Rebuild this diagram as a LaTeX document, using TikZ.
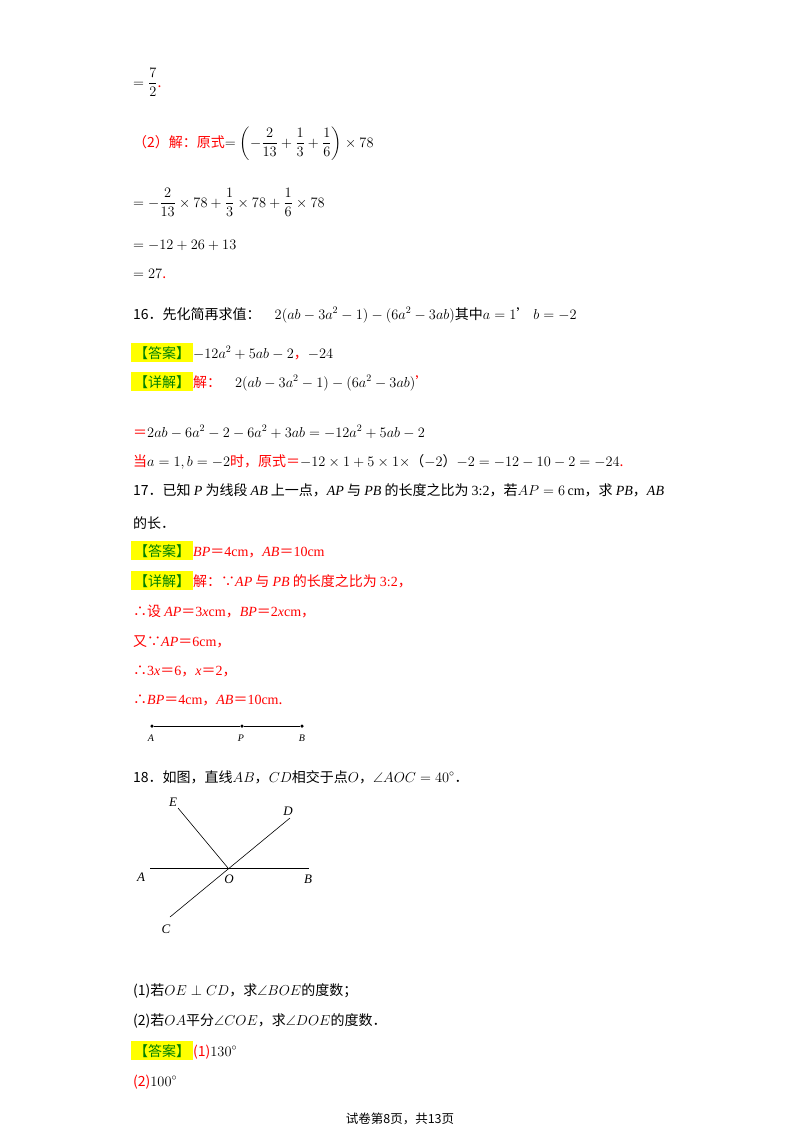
\documentclass[tikz,border=0pt]{standalone}
\usepackage{amsmath,amssymb}
\usepackage{fontspec}
\setmainfont{Noto Sans CJK SC}
\newfontfamily\lat{Liberation Serif}
\definecolor{rd}{RGB}{255,0,0}
\definecolor{gr}{RGB}{0,128,0}
\definecolor{hl}{RGB}{255,255,0}
\newcommand{\tagbox}[1]{\colorbox{hl}{\color{gr}【#1】}}
\begin{document}
\begin{tikzpicture}[x=1pt,y=-1pt,
  txt/.style={anchor=base west,inner sep=0pt,font=\fontsize{14}{16}\selectfont},
  foot/.style={anchor=base,inner sep=0pt,font=\fontsize{12.5}{14}\selectfont},
  lbl/.style={inner sep=0pt,font=\fontsize{13}{14}\selectfont\itshape\lat},
  slbl/.style={inner sep=0pt,font=\fontsize{10}{11}\selectfont\itshape\lat},
  seg/.style={line width=0.6pt},
  dot/.style={circle,fill=black,inner sep=0pt,minimum size=3.5pt}]
\useasboundingbox (0,0) rectangle (800,1132);
\node[txt] (l1) at (133,87) {$=\dfrac{7}{2}$\textcolor{rd}{.}};
\node[txt] (l2) at (133,147) {\textcolor{rd}{（2）解：原式}$=\left(-\dfrac{2}{13}+\dfrac{1}{3}+\dfrac{1}{6}\right)\times 78$};
\node[txt] (l3) at (133,207) {$=-\dfrac{2}{13}\times78+\dfrac{1}{3}\times78+\dfrac{1}{6}\times78$};
\node[txt] (l4) at (133,249) {$=-12+26+13$};
\node[txt] (l5) at (133,278) {$=27$\textcolor{rd}{.}};
\node[txt] (l6) at (133,319) {16．先化简再求值：\quad$2(ab-3a^2-1)-(6a^2-3ab)$其中$a=1$’\ $b=-2$};
\node[txt] (l7) at (131,358) {\tagbox{答案}$-12a^2+5ab-2$\textcolor{rd}{，}$-24$};
\node[txt] (l8) at (131,387) {\tagbox{详解}\textcolor{rd}{解：}\quad$2(ab-3a^2-1)-(6a^2-3ab)$\textcolor{rd}{’}};
\node[txt] (l9) at (133,437) {\textcolor{rd}{＝}$2ab-6a^2-2-6a^2+3ab=-12a^2+5ab-2$};
\node[txt] (l10) at (133,466) {\textcolor{rd}{当}$a=1,b=-2$\textcolor{rd}{时，原式＝}$-12\times1+5\times1\times$（$-2$）$-2=-12-10-2=-24$\textcolor{rd}{.}};
\node[txt] (l11) at (133,495) {17．已知 {\lat\itshape P} 为线段 {\lat\itshape AB} 上一点，{\lat\itshape AP} 与 {\lat\itshape PB} 的长度之比为 {\lat 3:2}，若$AP=6\,$\lat cm\rmfamily，求 {\lat\itshape PB}，{\lat\itshape AB}};
\node[txt] (l12) at (133,528) {的长．};
\node[txt] (l13) at (131,556) {\tagbox{答案}\color{rd}{\lat\itshape BP}＝{\lat 4cm}，{\lat\itshape AB}＝{\lat 10cm}};
\node[txt] (l14) at (131,586) {\tagbox{详解}\color{rd}解：∵{\lat\itshape AP} 与 {\lat\itshape PB} 的长度之比为 {\lat 3:2}，};
\node[txt] (l15) at (133,616) {\color{rd}∴设 {\lat\itshape AP}＝{\lat 3\textit{x}cm}，{\lat\itshape BP}＝{\lat 2\textit{x}cm}，};
\node[txt] (l16) at (133,646) {\color{rd}又∵{\lat\itshape AP}＝{\lat 6cm}，};
\node[txt] (l17) at (133,675) {\color{rd}∴{\lat 3\textit{x}}＝{\lat 6}，{\lat\itshape x}＝{\lat 2}，};
\node[txt] (l18) at (133,704) {\color{rd}∴{\lat\itshape BP}＝{\lat 4cm}，{\lat\itshape AB}＝{\lat 10cm}.};
\node[dot] (pA) at (152,726) {};
\node[dot] (pP) at (242,726) {};
\node[dot] (pB) at (302,726) {};
\draw[seg] (pA) -- (pP) -- (pB);
\node[slbl] at (151,738) {A};
\node[slbl] at (241,738) {P};
\node[slbl] at (302,738) {B};
\node[txt] (l19) at (133,782) {18．如图，直线$AB$，$CD$相交于点$O$，$\angle AOC=40^\circ$．};
\coordinate (O) at (228,868);
\coordinate (A) at (150,868);
\coordinate (B) at (309,868);
\coordinate (E) at (178,808);
\coordinate (D) at (290,818);
\coordinate (C) at (170,917);
\draw[seg] (A) -- (B);
\draw[seg] (C) -- (D);
\draw[seg] (E) -- (O);
\node[lbl] at (173,802) {E};
\node[lbl] at (288,811) {D};
\node[lbl] at (141,877) {A};
\node[lbl] at (229,879) {O};
\node[lbl] at (308,879) {B};
\node[lbl] at (166,929) {C};
\node[txt] (l20) at (133,995) {(1)若$OE\perp CD$，求$\angle BOE$的度数；};
\node[txt] (l21) at (133,1025) {(2)若$OA$平分$\angle COE$，求$\angle DOE$的度数．};
\node[txt] (l22) at (131,1056) {\tagbox{答案}\textcolor{rd}{(1)}$130^\circ$};
\node[txt] (l23) at (133,1086) {\textcolor{rd}{(2)}$100^\circ$};
\node[foot] (ft) at (400,1123) {试卷第8页，共13页};
\end{tikzpicture}
\end{document}
